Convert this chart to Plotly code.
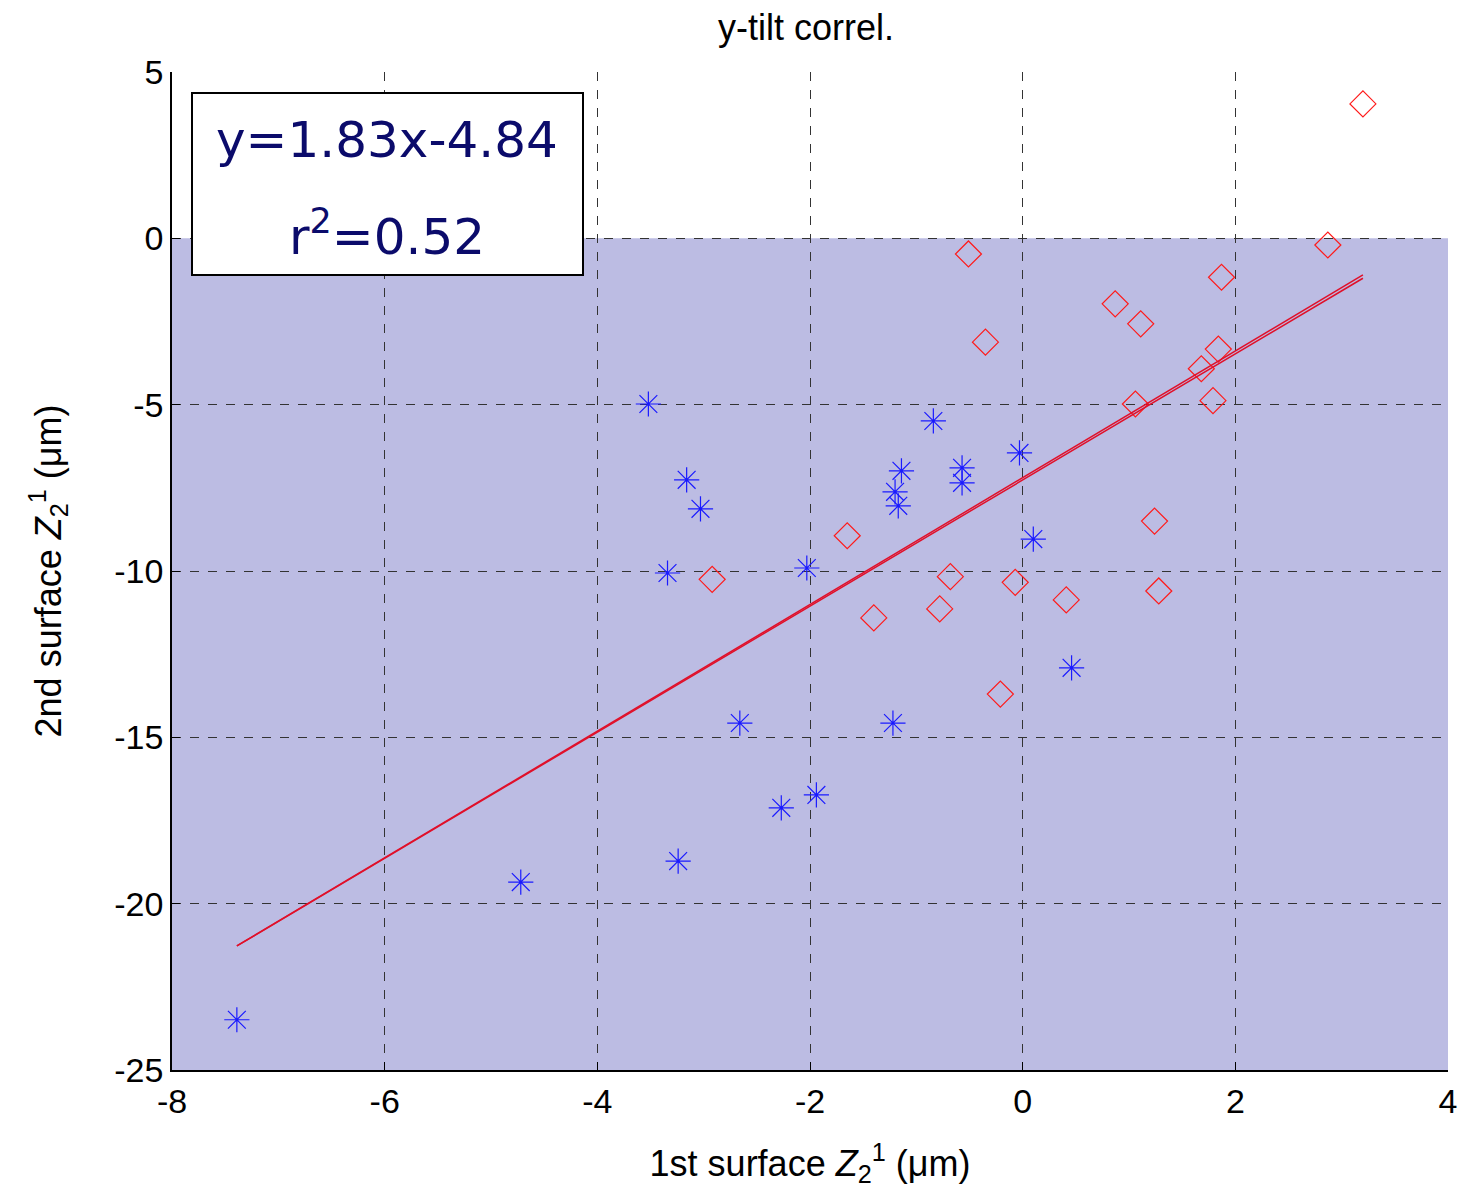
import plotly.graph_objects as go

# ---- data ----
first_surface_blue = [-7.39, -4.72, -3.52, -3.16, -3.03, -3.34, -3.24, -2.66, -2.27, -2.03, -1.94,
                      -1.22, -1.20, -1.17, -1.14, -0.84, -0.57, -0.57, -0.03, 0.10, 0.46]
second_surface_blue = [-23.49, -19.35, -4.98, -7.26, -8.13, -10.06, -18.72, -14.57, -17.12, -9.91, -16.73,
                       -14.57, -7.62, -8.04, -6.99, -5.49, -6.90, -7.35, -6.45, -9.04, -12.91]
first_surface_red = [-1.65, -2.92, -0.68, -0.07, -1.40, -0.78, -0.51, -0.35, -0.21, 0.41, 0.87,
                     1.11, 1.06, 1.24, 1.28, 1.87, 2.87, 3.20, 1.84, 1.68, 1.79]
second_surface_red = [-8.94, -10.25, -10.17, -10.34, -11.41, -11.14, -0.47, -3.12, -13.70, -10.87, -1.97,
                      -2.57, -4.98, -8.50, -10.60, -1.17, -0.20, 4.04, -3.33, -3.92, -4.88]
fit_x = [-7.39, 3.20]
fit_y_a = [-21.27, -1.10]
fit_y_b = [-21.27, -1.20]
x_range = [-8, 4]
y_range = [-25, 5]
shade_top = 0
x_ticks = [-8, -6, -4, -2, 0, 2, 4]
y_ticks = [-25, -20, -15, -10, -5, 0, 5]
fit_text = "y=1.83x-4.84"
r2_text = "r<sup>2</sup>=0.52"

fig = go.Figure()
fig.add_trace(go.Scatter(x=first_surface_blue, y=second_surface_blue, mode="markers",
                         marker=dict(symbol="asterisk-open", size=21, color="#1a1aff",
                                     line=dict(color="#1a1aff", width=1.2)),
                         showlegend=False))
fig.add_trace(go.Scatter(x=first_surface_red, y=second_surface_red, mode="markers",
                         marker=dict(symbol="diamond-open", size=20, color="#ff1a1a",
                                     line=dict(color="#ff1a1a", width=1.2)),
                         showlegend=False))
fig.add_trace(go.Scatter(x=fit_x, y=fit_y_a, mode="lines",
                         line=dict(color="#e0102a", width=1.5), showlegend=False))
fig.add_trace(go.Scatter(x=fit_x, y=fit_y_b, mode="lines",
                         line=dict(color="#e0102a", width=1.5), showlegend=False))

# shaded hatched region (approximated with average colour)
fig.add_shape(type="rect", xref="x", yref="y", x0=x_range[0], x1=x_range[1],
              y0=y_range[0], y1=shade_top, fillcolor="#bcbce3", line=dict(width=0),
              layer="below")

# text box
fig.add_shape(type="rect", xref="paper", yref="paper",
              x0=(192 - 172) / 1276, x1=(583 - 172) / 1276,
              y0=(1070 - 275) / 998, y1=(1070 - 93) / 998,
              fillcolor="white", line=dict(color="black", width=2), layer="above")
txtfont = dict(family="DejaVu Sans", size=50, color="#0b0b6b")
fig.add_annotation(xref="paper", yref="paper", x=(387 - 172) / 1276, y=(1070 - 140) / 998,
                   text=fit_text, showarrow=False, font=txtfont, xanchor="center", yanchor="middle")
fig.add_annotation(xref="paper", yref="paper", x=(387 - 172) / 1276, y=(1070 - 233) / 998,
                   text=r2_text, showarrow=False, font=txtfont, xanchor="center", yanchor="middle")

axfont = dict(family="Liberation Sans, Arial", size=34, color="black")
fig.update_layout(
    width=1470, height=1195,
    margin=dict(l=172, r=22, t=72, b=125),
    paper_bgcolor="white", plot_bgcolor="white",
    title=dict(text="y-tilt correl.", x=806 / 1470, xanchor="center", y=1 - 27 / 1195, yanchor="middle",
               font=dict(family="Liberation Sans, Arial", size=36, color="black")),
    font=axfont,
)
fig.update_xaxes(range=x_range, tickvals=x_ticks, ticktext=[str(v) for v in x_ticks],
                 showgrid=True, gridcolor="#333333", griddash="dash", gridwidth=1,
                 showline=True, linecolor="black", linewidth=1.5, mirror=False,
                 ticks="inside", ticklen=8, tickcolor="black", zeroline=False,
                 tickfont=axfont,
                 title=dict(text="1st surface <i>Z</i><sub>2</sub><sup>1</sup> (μm)", standoff=32,
                            font=dict(family="Liberation Sans, Arial", size=36, color="black")))
fig.update_yaxes(range=y_range, tickvals=y_ticks, ticktext=[str(v) for v in y_ticks],
                 showgrid=True, gridcolor="#333333", griddash="dash", gridwidth=1,
                 showline=True, linecolor="black", linewidth=1.5, mirror=False,
                 ticks="inside", ticklen=8, tickcolor="black", zeroline=False,
                 tickfont=axfont,
                 title=dict(text="2nd surface <i>Z</i><sub>2</sub><sup>1</sup> (μm)", standoff=42,
                            font=dict(family="Liberation Sans, Arial", size=36, color="black")))

fig.write_html("out.html")
